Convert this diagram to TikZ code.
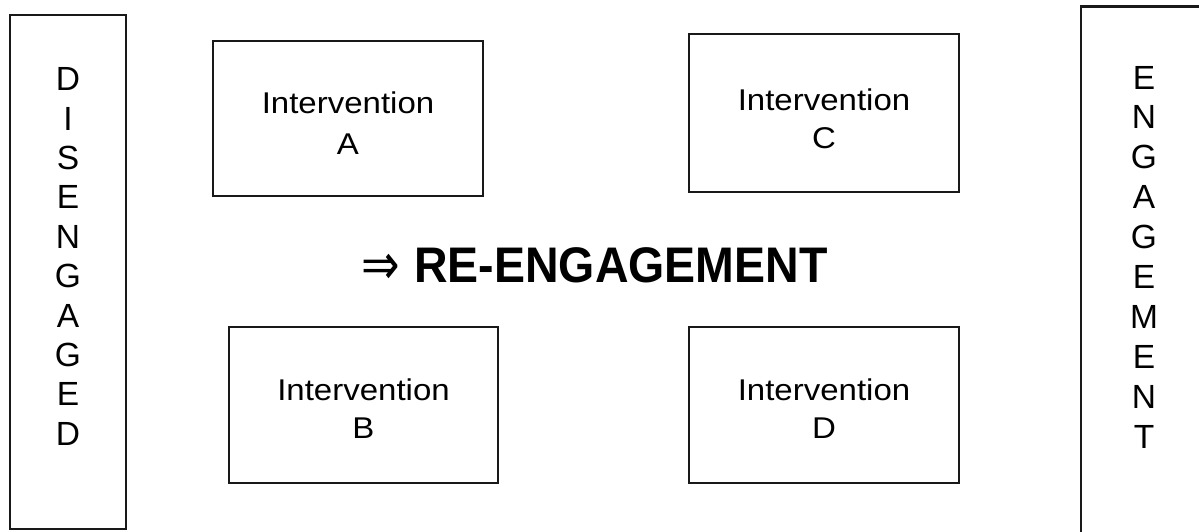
\documentclass[tikz,border=0pt]{standalone}
\usepackage{fontspec}
\usepackage{graphicx}
\setmainfont{Liberation Sans}
\newfontfamily\boxfont[FakeStretch=1.1]{Liberation Sans}
\newfontfamily\titlefont[FakeStretch=0.93]{Liberation Sans}
\newfontfamily\symfont{DejaVu Sans}
\begin{document}
\begin{tikzpicture}[x=1pt,y=-1pt,
  box/.style={draw=black!90, line width=2.2pt, inner sep=0pt},
  letter/.style={anchor=base, inner sep=0pt, font=\fontsize{33.5}{33.5}\selectfont},
  lbl/.style={anchor=base, inner sep=0pt, font=\boxfont\fontsize{30}{30}\selectfont}]
\useasboundingbox (0,0) rectangle (1199,531);
% side boxes
\node[box, minimum width=116pt, minimum height=514pt] (dis) at (68,272) {};
\node[box, minimum width=121pt, minimum height=534pt] (eng) at (1141.5,273.5) {};
% side letters
\foreach \ch [count=\i from 0] in {D,I,S,E,N,G,A,G,E,D}
  \node[letter] (dl\i) at (68,90.7+39.4*\i) {\ch};
\foreach \ch [count=\i from 0] in {E,N,G,A,G,E,M,E,N,T}
  \node[letter] (el\i) at (1144,89+39.9*\i) {\ch};
% intervention boxes
\node[box, minimum width=270pt, minimum height=155pt] (A) at (348,118.5) {};
\node[box, minimum width=270pt, minimum height=158pt] (C) at (824,113) {};
\node[box, minimum width=269pt, minimum height=156pt] (B) at (363.5,405) {};
\node[box, minimum width=270pt, minimum height=156pt] (D) at (824,405) {};
% labels
\node[lbl] (A1) at (348,113.3) {Intervention};
\node[lbl] (A2) at (348,154) {A};
\node[lbl] (C1) at (824,110) {Intervention};
\node[lbl] (C2) at (824,148) {C};
\node[lbl] (B1) at (363.5,400) {Intervention};
\node[lbl] (B2) at (363.5,438) {B};
\node[lbl] (D1) at (824,400) {Intervention};
\node[lbl] (D2) at (824,438) {D};
% title
\node[anchor=base west, inner sep=0pt] (arrow) at (361,284) {\scalebox{1}[1.25]{\symfont\fontsize{46}{46}\selectfont ⇒}};
\node[anchor=base west, inner sep=0pt] (title) at (414,282) {\titlefont\bfseries\fontsize{50}{50}\selectfont RE-ENGAGEMENT};
\end{tikzpicture}
\end{document}
